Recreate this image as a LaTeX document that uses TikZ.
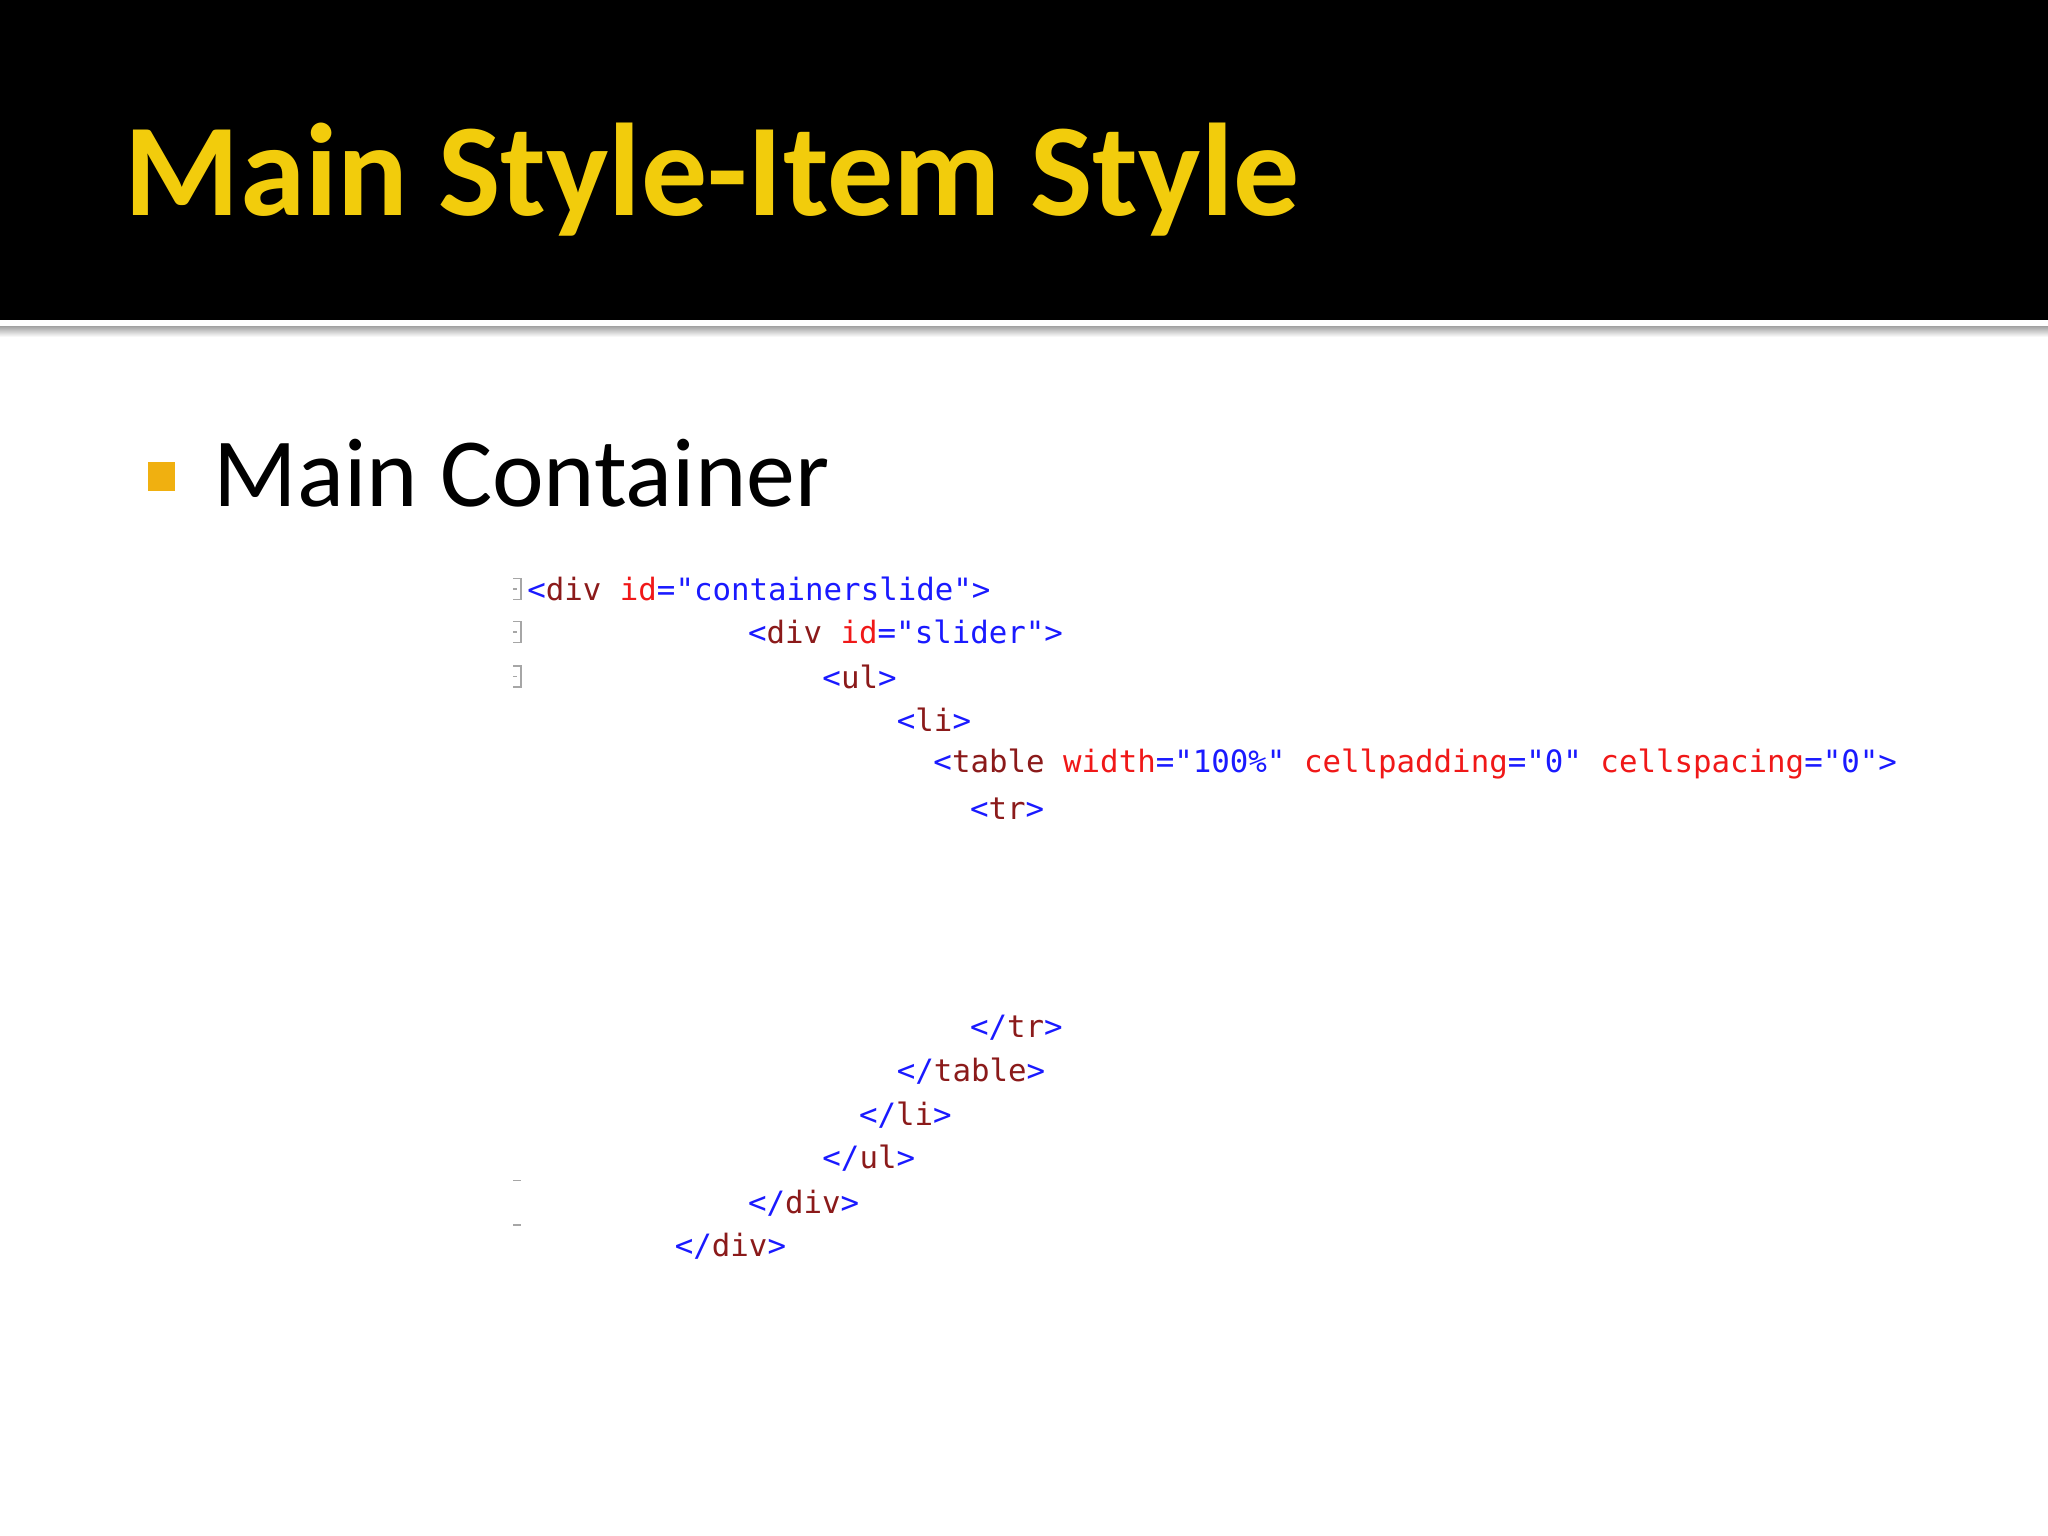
\documentclass[tikz,border=0pt]{standalone}
\usepackage{fontspec}
\setmainfont{Carlito}
\newfontfamily\codef{DejaVu Sans Mono}
\definecolor{ttl}{HTML}{F2CC0C}
\definecolor{bul}{HTML}{F0B010}
\definecolor{cb}{HTML}{1A1AFF}
\definecolor{cm}{HTML}{8B1A1A}
\definecolor{cr}{HTML}{F01818}
\newcommand{\Bc}[1]{\textcolor{cb}{#1}}
\newcommand{\Mc}[1]{\textcolor{cm}{#1}}
\newcommand{\Rc}[1]{\textcolor{cr}{#1}}
\tikzset{codeln/.style={anchor=west,inner sep=0pt,font=\codef\fontsize{6.7pt}{8pt}\selectfont},
 fold/.style={draw=gray!70,line width=0.3pt}}
\begin{document}
\begin{tikzpicture}[x=0.01cm,y=-0.01cm]
\useasboundingbox (0,0) rectangle (1568,1176);
\fill[white] (0,0) rectangle (1568,1176);
\fill[black] (0,0) rectangle (1568,245);
\shade[top color=gray!70,bottom color=white] (0,250) rectangle (1568,258);
\node[anchor=base west,inner sep=0pt,text=ttl,font=\bfseries\fontsize{28.7pt}{30pt}\selectfont] (title) at (95,165) {Main Style-Item Style};
\fill[bul] (113,354) rectangle (134,376);
\node[anchor=base west,inner sep=0pt,font=\fontsize{21.3pt}{24pt}\selectfont] (mc) at (163,388) {Main Container};
\node[codeln] (l1) at (403,451) {\Bc{<}\Mc{div} \Rc{id}\Bc{="containerslide">}};
\node[codeln] (l2) at (572,484) {\Bc{<}\Mc{div} \Rc{id}\Bc{="slider">}};
\node[codeln] (l3) at (629,518) {\Bc{<}\Mc{ul}\Bc{>}};
\node[codeln] (l4) at (686,551) {\Bc{<}\Mc{li}\Bc{>}};
\node[codeln] (l5) at (714,585) {\Bc{<}\Mc{table} \Rc{width}\Bc{="100\%"} \Rc{cellpadding}\Bc{="0"} \Rc{cellspacing}\Bc{="0">}};
\node[codeln] (l6) at (742,619) {\Bc{<}\Mc{tr}\Bc{>}};
\node[codeln] (l7) at (742,787) {\Bc{</}\Mc{tr}\Bc{>}};
\node[codeln] (l8) at (686,820) {\Bc{</}\Mc{table}\Bc{>}};
\node[codeln] (l9) at (657,854) {\Bc{</}\Mc{li}\Bc{>}};
\node[codeln] (l10) at (629,887) {\Bc{</}\Mc{ul}\Bc{>}};
\node[codeln] (l11) at (572,921) {\Bc{</}\Mc{div}\Bc{>}};
\node[codeln] (l12) at (516,954) {\Bc{</}\Mc{div}\Bc{>}};
\foreach \y in {451,484,518}{
 \draw[fold] (393,\y-8) -- (399,\y-8) -- (399,\y+8) -- (393,\y+8);
 \draw[fold] (393,\y) -- (396,\y);}
\foreach \y in {904,938}{\draw[fold] (393,\y) -- (399,\y);}
\end{tikzpicture}
\end{document}
